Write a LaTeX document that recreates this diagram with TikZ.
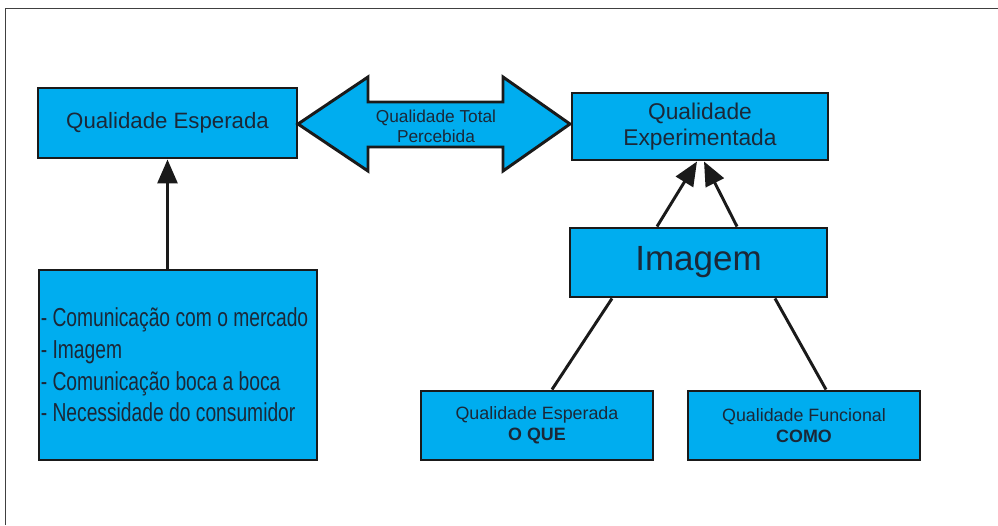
\documentclass[tikz,border=0pt]{standalone}
\usepackage{fontspec}
\setmainfont{Liberation Sans}
\newfontfamily\narrowfont[FakeStretch=0.74]{Liberation Sans}
\usetikzlibrary{calc,arrows.meta}

\definecolor{boxcyan}{HTML}{00ADEF}
\definecolor{boxline}{HTML}{1A1A1A}
\definecolor{boxtext}{HTML}{1B2838}

\begin{document}
\begin{tikzpicture}[x=0.25mm,y=-0.25mm,
  box/.style={draw=boxline, line width=2.1pt, fill=boxcyan, text=boxtext, align=center, inner sep=0pt},
  link/.style={draw=boxline, line width=2.1pt},
  tip/.style={link, -{Triangle[length=6mm,width=5mm]}}]

  \useasboundingbox (0,0) rectangle (998,525);
  \draw[black!75, line width=0.7pt] (5,525) -- (5,8) -- (998,8);

  % top row
  \node[box, minimum width=64.75mm, minimum height=17.5mm,
        font=\fontsize{15.8}{19}\selectfont] (esp) at (167.5,123) {Qualidade Esperada};
  \node[box, minimum width=64mm, minimum height=16.75mm,
        font=\fontsize{16.2}{19}\selectfont] (exp) at (700,126.5) {Qualidade\\Experimentada};

  % double arrow between them
  \draw[box] (298,124) -- (368,77) -- (368,102) -- (503,102) -- (503,77) -- (570,124)
    -- (503,171) -- (503,147) -- (368,147) -- (368,171) -- cycle;
  \node[text=boxtext, align=center, font=\fontsize{12.3}{14}\selectfont] (total) at (436,126)
    {Qualidade Total\\Percebida};

  % left column
  \node[box, minimum width=69.5mm, minimum height=47.5mm] (lst) at (178,365) {};
  \node[anchor=west, text=boxtext, align=left, inner sep=0pt,
        font=\narrowfont\fontsize{18.5}{22.5}\selectfont] (lsttxt) at ([xshift=0.75mm]lst.west)
    {- Comunicação com o mercado\\- Imagem\\- Comunicação boca a boca\\- Necessidade do consumidor};
  \draw[tip] (esp.south |- lst.north) -- (esp.south);

  % right column
  \node[box, minimum width=64.25mm, minimum height=17.25mm,
        font=\fontsize{24.9}{28}\selectfont] (img) at (698.5,262.5) {Imagem};
  \node[box, minimum width=58mm, minimum height=17.25mm,
        font=\fontsize{12.7}{15}\selectfont] (oque) at (537,425.5) {Qualidade Esperada\\\textbf{O QUE}};
  \node[box, minimum width=58mm, minimum height=17.25mm,
        font=\fontsize{12.7}{15}\selectfont] (como) at (804,425.5) {Qualidade Funcional\\\textbf{COMO}};

  \draw[tip] ($(img.north)+(-41.5,0)$) -- ($(exp.south)+(-3,0)$);
  \draw[tip] ($(img.north)+(38.5,0)$) -- ($(exp.south)+(4,0)$);
  \draw[link] ($(img.south)+(-86.5,0)$) -- ($(oque.north)+(15,0)$);
  \draw[link] ($(img.south)+(76.5,0)$) -- ($(como.north)+(22,0)$);
\end{tikzpicture}
\end{document}
